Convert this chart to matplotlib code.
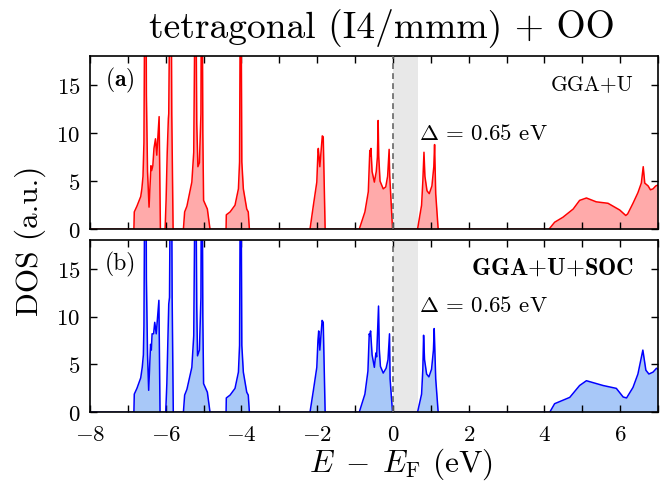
import matplotlib
matplotlib.use("Agg")
import matplotlib.pyplot as plt
from matplotlib.ticker import MultipleLocator, FuncFormatter

plt.rcParams["font.family"] = "cmr10"
plt.rcParams["mathtext.fontset"] = "cm"
plt.rcParams["axes.formatter.use_mathtext"] = True
plt.rcParams["axes.unicode_minus"] = False

# DOS, panel (a) GGA+U
energy_a = [-8.0, -6.84, -6.83, -6.76, -6.66, -6.63, -6.60, -6.575, -6.56, -6.545, -6.525, -6.51, -6.48, -6.44,
            -6.39, -6.37, -6.34, -6.31, -6.27, -6.236, -6.174, -6.14,
            -6.016, -5.99, -5.96, -5.93, -5.92, -5.88, -5.86, -5.84, -5.805,
            -5.533, -5.50, -5.44, -5.31, -5.26, -5.235, -5.215, -5.195, -5.18, -5.15, -5.11, -5.07, -5.055, -5.04, -5.02,
            -5.0, -4.90, -4.83,
            -4.406, -4.40, -4.30, -4.17, -4.08, -4.05, -4.03, -4.01, -3.99, -3.95, -3.86, -3.82, -3.79,
            -2.19, -2.10, -2.01, -1.98, -1.97, -1.93, -1.865, -1.84, -1.79,
            -0.89, -0.74, -0.65, -0.61, -0.60, -0.58, -0.55, -0.49, -0.44, -0.41, -0.39, -0.375, -0.34, -0.256, -0.19,
            -0.14, -0.10, -0.085, -0.01,
            0.65, 0.757, 0.79, 0.82, 0.845, 0.90, 0.96, 1.03, 1.08, 1.10, 1.13, 1.195,
            4.12, 4.27, 4.49, 4.76, 4.93, 5.11, 5.37, 5.68, 5.99, 6.15, 6.20, 6.34, 6.47, 6.56, 6.61, 6.65, 6.74, 6.80,
            6.87, 6.94, 7.0]
dos_a = [0, 0, 1.8, 2.4, 3.4, 4.2, 5.5, 9.0, 20, 30, 30, 14, 6, 2.3,
         6.6, 6.1, 6.6, 8.4, 9.4, 7.7, 11.7, 0,
         0, 3.0, 8.0, 11.5, 12.0, 30, 30, 12, 0,
         0, 1.8, 2.4, 4.9, 8.0, 20, 30, 20, 11.0, 6.5, 6.9, 12, 30, 30, 10,
         3.0, 2.1, 0,
         0, 1.5, 1.8, 2.5, 4.2, 7.0, 25, 25, 7.0, 4.2, 2.1, 1.8, 0,
         0, 2.5, 4.9, 8.0, 8.4, 6.5, 9.7, 9.6, 0,
         0, 1.8, 3.9, 8.2, 7.6, 8.4, 6.0, 4.9, 6.0, 7.5, 11.3, 7.6, 5.0, 4.2, 4.4,
         5.5, 8.3, 5.6, 0,
         0, 2.5, 5.0, 8.0, 5.5, 4.0, 3.7, 4.5, 6.5, 8.8, 3.7, 0,
         0, 0.73, 1.25, 2.1, 3.0, 3.25, 2.85, 2.7, 2.0, 1.43, 1.6, 2.7, 3.8, 4.8, 6.5, 4.8, 4.5, 4.1,
         4.2, 4.5, 4.6]

# panel (b) GGA+U+SOC
energy_b = [-8.0, -6.84, -6.83, -6.76, -6.66, -6.62, -6.59, -6.575, -6.56, -6.545, -6.525, -6.51, -6.48, -6.45,
            -6.40, -6.38, -6.36, -6.32, -6.29, -6.25, -6.18, -6.15,
            -6.0, -5.97, -5.94, -5.92, -5.90, -5.87, -5.85, -5.83, -5.80,
            -5.533, -5.50, -5.44, -5.31, -5.26, -5.235, -5.215, -5.195, -5.18, -5.16, -5.11, -5.07, -5.055, -5.04, -5.02,
            -5.0, -4.90, -4.83,
            -4.406, -4.40, -4.30, -4.17, -4.08, -4.05, -4.03, -4.01, -3.99, -3.95, -3.86, -3.82, -3.79,
            -2.19, -2.10, -2.01, -1.98, -1.96, -1.93, -1.87, -1.84, -1.79,
            -0.89, -0.74, -0.66, -0.625, -0.61, -0.59, -0.55, -0.49, -0.45, -0.43, -0.38, -0.36, -0.33, -0.256, -0.18,
            -0.13, -0.09, -0.075, -0.01,
            0.65, 0.757, 0.79, 0.81, 0.835, 0.89, 0.95, 1.02, 1.07, 1.09, 1.13, 1.195,
            4.14, 4.27, 4.67, 4.93, 5.11, 5.55, 5.90, 6.08, 6.17, 6.34, 6.47, 6.60, 6.68, 6.76, 6.87, 6.96, 7.0]
dos_b = [0, 0, 1.9, 2.5, 3.6, 4.7, 6.0, 9.0, 20, 30, 30, 14, 6, 2.3,
         7.1, 6.5, 8.2, 8.2, 9.4, 8.2, 11.7, 0,
         0, 3.0, 8.0, 11.3, 12.0, 30, 30, 12, 0,
         0, 1.8, 2.4, 4.7, 8.0, 20, 30, 20, 11.0, 5.9, 6.5, 12, 30, 30, 10,
         3.0, 2.1, 0,
         0, 1.5, 1.8, 2.5, 4.2, 7.0, 25, 25, 7.0, 4.2, 2.1, 1.8, 0,
         0, 2.3, 4.7, 7.5, 8.5, 6.5, 9.6, 9.4, 0,
         0, 1.9, 4.3, 8.2, 8.0, 8.5, 6.0, 4.7, 6.2, 5.8, 11.1, 6.6, 4.8, 4.1, 4.6,
         5.5, 8.2, 3.5, 0,
         0, 1.9, 4.5, 8.05, 5.5, 4.0, 3.7, 4.5, 6.5, 8.75, 3.5, 0,
         0, 0.9, 1.56, 2.8, 3.3, 2.8, 2.5, 1.6, 1.5, 2.6, 4.0, 6.5, 4.4, 4.0, 4.2, 4.6, 4.5]

gap = 0.65
yticks = [0, 5, 10, 15]

fig = plt.figure(figsize=(6.67, 4.85), dpi=100)
ax1 = fig.add_axes([0.1349, 0.5252, 0.8516, 0.3573])
ax2 = fig.add_axes([0.1349, 0.1478, 0.8516, 0.3553])

panels = [
    (ax1, energy_a, dos_a, "#ff0000", "#ffaaaa", r"$\mathbf{(a)}$", "GGA+U", 15.5, 15.2, 10.0),
    (ax2, energy_b, dos_b, "#0000ff", "#a8c8f8", "(b)", r"$\mathbf{GGA{+}U{+}SOC}$", 17.5, 15.1, 11.2),
]

for ax, e, d, lc, fc, tag, method, msize, my, dy in panels:
    ax.axvspan(0, gap, color="#e8e8e8", lw=0, zorder=0)
    ax.fill_between(e, d, 0, color=fc, lw=0, zorder=1)
    ax.plot(e, d, color=lc, lw=1.1, zorder=2)
    ax.axvline(0, color="0.4", ls=(0, (3.5, 2.5)), lw=1.2, zorder=3)
    ax.set_xlim(-8, 7)
    ax.set_ylim(0, 18)
    ax.xaxis.set_major_locator(MultipleLocator(2))
    ax.xaxis.set_minor_locator(MultipleLocator(1))
    ax.set_yticks(yticks)
    ax.tick_params(which="both", direction="in", top=True, right=True, length=5, width=1.0,
                   labelsize=16.5)
    ax.tick_params(axis="y", pad=7)
    ax.tick_params(axis="x", pad=9)
    ax.xaxis.set_major_formatter(FuncFormatter(lambda v, p: r"$%d$" % v))
    ax.yaxis.set_major_formatter(FuncFormatter(lambda v, p: r"$%d$" % v))
    for s in ax.spines.values():
        s.set_linewidth(1.2)
    ax.text(-7.6, 15.6, tag, fontsize=17, ha="left", va="center")
    ax.text(6.35, my, method, fontsize=msize, ha="right", va="center")
    ax.text(0.68, dy, r"$\Delta\,=\,0.65$ eV", fontsize=16.5, ha="left", va="center")

ax1.tick_params(labelbottom=False)

fig.text(0.573, 0.943, "tetragonal (I4/mmm) + OO", fontsize=27, ha="center", va="center")
fig.text(0.045, 0.503, "DOS (a.u.)", fontsize=22.5, rotation=90, ha="center", va="center")
fig.text(0.601, 0.042, r"$E\;-\;E_\mathrm{F}$ (eV)", fontsize=22.5, ha="center", va="center")

fig.savefig("out.png", dpi=100)
